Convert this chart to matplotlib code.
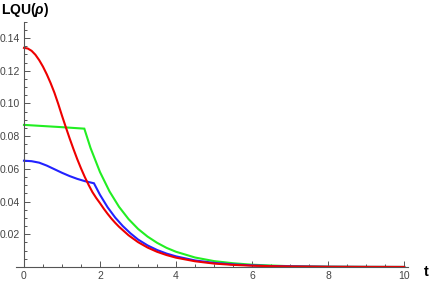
import matplotlib
matplotlib.use("Agg")
import matplotlib.pyplot as plt
import numpy as np

# ---- data ----
t_red = [0, 0.1, 0.2, 0.3, 0.4, 0.5, 0.6, 0.7, 0.8, 0.9, 1.0, 1.1, 1.2, 1.3,
         1.4, 1.5, 1.6, 1.7, 1.8, 1.9, 2.0, 2.1, 2.2, 2.3, 2.4, 2.5, 2.75,
         3.0, 3.25, 3.5, 3.75, 4.0, 4.5, 5.0, 5.5, 6.0, 6.5, 7.0, 8.0, 9.0, 10.0]
red = [0.1340, 0.1336, 0.1322, 0.1298, 0.1265, 0.1225, 0.1178, 0.1125, 0.1066,
       0.0998, 0.0925, 0.0855, 0.0787, 0.0722, 0.0660, 0.0603, 0.0550, 0.0502,
       0.0458, 0.0422, 0.0390, 0.0356, 0.0325, 0.0296, 0.0270, 0.0246, 0.0194,
       0.0152, 0.0119, 0.0093, 0.0073, 0.0057, 0.0035, 0.0021, 0.0013, 0.0008,
       0.0005, 0.0003, 0.00012, 0.00005, 0.00002]

t_blue = [0, 0.2, 0.4, 0.6, 0.8, 1.0, 1.2, 1.4, 1.6, 1.84, 2.0, 2.2, 2.4, 2.6,
          2.8, 3.0, 3.25, 3.5, 3.75, 4.0, 4.5, 5.0, 5.5, 6.0, 6.5, 7.0, 8.0,
          9.0, 10.0]
blue = [0.0650, 0.0647, 0.0638, 0.0620, 0.0598, 0.0576, 0.0556, 0.0539, 0.0525,
        0.0512, 0.0441, 0.0365, 0.0302, 0.0250, 0.0206, 0.0168, 0.0132, 0.0104,
        0.0082, 0.0065, 0.0040, 0.0025, 0.0016, 0.0010, 0.0006, 0.0004,
        0.00015, 0.00006, 0.00002]

t_green = [0, 0.5, 1.0, 1.587, 1.75, 2.0, 2.25, 2.5, 2.75, 3.0, 3.25, 3.5,
           3.75, 4.0, 4.5, 5.0, 5.5, 6.0, 6.5, 7.0, 8.0, 9.0, 10.0]
green = [0.0869, 0.0862, 0.0855, 0.0846, 0.0728, 0.0580, 0.0462, 0.0368,
         0.0293, 0.0233, 0.0186, 0.0148, 0.0117, 0.0093, 0.0058, 0.0036,
         0.0023, 0.0014, 0.0009, 0.0005, 0.0002, 0.00008, 0.00003]

x_major = [0, 2, 4, 6, 8, 10]
y_major = [0.02, 0.04, 0.06, 0.08, 0.10, 0.12, 0.14]

plt.rcParams['font.family'] = ['Liberation Sans', 'DejaVu Sans']
plt.rcParams['mathtext.fontset'] = 'custom'
plt.rcParams['mathtext.it'] = 'Liberation Sans:italic:bold'
plt.rcParams['mathtext.rm'] = 'Liberation Sans:bold'

W, H = 429, 281
fig = plt.figure(figsize=(W / 100, H / 100), dpi=100)
left_px, right_px, top_px, bot_px = 16, 408, 21.7, 267
ax = fig.add_axes([left_px / W, 1 - bot_px / H, (right_px - left_px) / W,
                   (bot_px - top_px) / H])

ax.plot(t_green, green, color='#22ee22', lw=1.5, solid_joinstyle='miter')
ax.plot(t_blue, blue, color='#2222ff', lw=1.5, solid_joinstyle='miter')
ax.plot(t_red, red, color='#ee0000', lw=1.5, solid_joinstyle='miter')

ax.set_xlim(-0.21, 10.1)
ax.set_ylim(0, 0.15)

axcol = '#555555'
for s in ['top', 'right']:
    ax.spines[s].set_visible(False)
ax.spines['left'].set_position(('data', 0))
for s in ['left', 'bottom']:
    ax.spines[s].set_color(axcol)
    ax.spines[s].set_linewidth(0.8)

ax.set_xticks(x_major)
ax.set_xticklabels([str(v) for v in x_major])
ax.set_xticks(np.arange(0, 10.01, 0.5), minor=True)
ax.set_yticks(y_major)
ax.set_yticklabels(['%.2f' % v for v in y_major])
ax.set_yticks(np.arange(0.005, 0.1501, 0.005), minor=True)

ax.tick_params(which='both', direction='in', color=axcol, width=0.7,
               labelsize=7.5, labelcolor='#444444')
ax.tick_params(which='major', length=4, pad=3)
ax.tick_params(which='minor', length=2.2)

fig.text(1 / W, 1 - 10 / H, r'LQU($\rho$)', fontsize=10, fontweight='bold',
         ha='left', va='center', color='black')
fig.text(426 / W, 1 - 272 / H, 't', fontsize=10.5, fontweight='bold',
         ha='center', va='center', color='black')

fig.savefig('out.png', dpi=100)
